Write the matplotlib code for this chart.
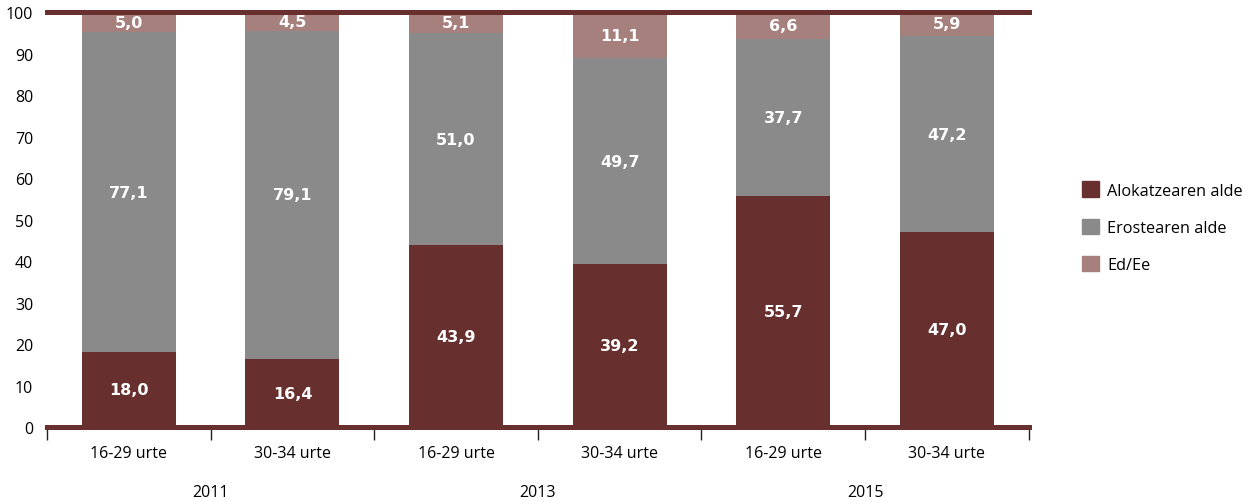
import matplotlib.pyplot as plt
from matplotlib.patches import Patch
import numpy as np

plt.rcParams['font.family'] = ['Open Sans', 'DejaVu Sans']

groups = ['16-29 urte', '30-34 urte', '16-29 urte', '30-34 urte', '16-29 urte', '30-34 urte']
years = ['2011', '2013', '2015']
alokatzea = [18.0, 16.4, 43.9, 39.2, 55.7, 47.0]
erostea = [77.1, 79.1, 51.0, 49.7, 37.7, 47.2]
ed_ee = [5.0, 4.5, 5.1, 11.1, 6.6, 5.9]

c_alok = '#67302e'
c_eros = '#8a8a8a'
c_ed = '#a6807d'

fig = plt.figure(figsize=(12.57, 5.02), dpi=100)
ax = fig.add_axes([0.0374, 0.147, 0.781, 0.827])

x = np.arange(len(groups)) + 0.5
w = 0.575
b1 = np.array(alokatzea)
b2 = b1 + np.array(erostea)
ax.bar(x, alokatzea, w, color=c_alok, zorder=2)
ax.bar(x, erostea, w, bottom=b1, color=c_eros, zorder=2)
ax.bar(x, ed_ee, w, bottom=b2, color=c_ed, zorder=2)

lbl = dict(ha='center', va='center', color='white', fontsize=11.5,
           fontweight='bold', family='DejaVu Sans', zorder=3)
for xi, a, e, d, s1, s2 in zip(x, alokatzea, erostea, ed_ee, b1, b2):
    ax.text(xi, a / 2, f'{a:.1f}'.replace('.', ','), **lbl)
    ax.text(xi, s1 + e / 2, f'{e:.1f}'.replace('.', ','), **lbl)
    ax.text(xi, min(s2 + d / 2, 97.8), f'{d:.1f}'.replace('.', ','), **lbl)

# thick lines at 0 and 100
ax.axhline(0, color=c_alok, lw=3.6, zorder=4, clip_on=False)
ax.axhline(100, color=c_alok, lw=3.6, zorder=4, clip_on=False)

ax.set_xlim(0, len(groups))
ax.set_ylim(0, 100)
ax.set_yticks(range(0, 101, 10))
ax.tick_params(axis='y', length=0, labelsize=11.5, pad=10)
ax.set_xticks(np.arange(len(groups) + 1))
ax.set_xticklabels([])
ax.set_xticks(x, minor=True)
ax.set_xticklabels(groups, minor=True)
ax.tick_params(axis='x', which='major', length=9, width=1, color='#222222')
ax.tick_params(axis='x', which='minor', length=0, labelsize=11.5, pad=13)
for sp in ax.spines.values():
    sp.set_visible(False)

for i, yr in enumerate(years):
    ax.text(2 * i + 1, -15.5, yr, ha='center', va='center', fontsize=11.5,
            clip_on=False)

handles = [Patch(color=c_alok, label='Alokatzearen alde'),
           Patch(color=c_eros, label='Erostearen alde'),
           Patch(color=c_ed, label='Ed/Ee')]
fig.legend(handles=handles, loc='center left', bbox_to_anchor=(0.849, 0.545),
           frameon=False, fontsize=11.7, handlelength=1.05, handleheight=1.05,
           labelspacing=1.25, handletextpad=0.5)

fig.savefig('out.png', dpi=100)
